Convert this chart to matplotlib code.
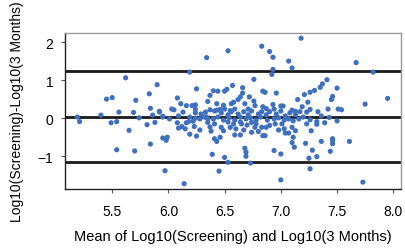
import numpy as np
import matplotlib.pyplot as plt

plt.rcParams['font.family'] = ['Liberation Sans', 'DejaVu Sans']

# mean of the two log10 values
mean_log = [
    5.19, 5.21, 5.40, 5.45, 5.50, 5.49, 5.54, 5.56, 5.54, 5.62,
    5.65, 5.69, 5.71, 5.70, 5.74, 5.81, 5.83, 5.84, 5.84, 5.86,
    5.90, 5.88, 5.92, 5.95, 5.95, 5.98, 5.99, 5.97, 6.03, 6.05,
    6.08, 6.08, 6.09, 6.11, 6.12, 6.13, 6.14, 6.15, 6.16, 6.16,
    6.18, 6.19, 6.19, 6.22, 6.23, 6.21, 6.24, 6.25, 6.25, 6.24,
    6.28, 6.32, 6.33, 6.34, 6.35, 6.37, 6.35, 6.38, 6.39, 6.40,
    6.41, 6.43, 6.43, 6.43, 6.45, 6.46, 6.47, 6.49, 6.50, 6.52,
    6.50, 6.53, 6.53, 6.44, 6.50, 6.55, 6.56, 6.57, 6.59, 6.62,
    6.64, 6.66, 6.66, 6.68, 6.71, 6.72, 6.76, 6.76, 6.77, 6.83,
    6.84, 6.68, 6.69, 6.69, 6.73, 6.49, 6.55, 6.59, 6.64, 6.74,
    6.80, 6.84, 6.58, 6.65, 6.70, 6.74, 6.78, 6.77, 6.83, 6.90,
    6.93, 7.07, 7.10, 6.93, 6.92, 7.18, 6.86, 6.96, 7.35, 7.30,
    7.26, 7.21, 7.15, 7.24, 6.84, 6.93, 6.94, 7.00, 7.02, 7.10,
    7.13, 7.26, 7.23, 7.00, 7.26, 6.94, 7.00, 7.25, 7.32, 7.28,
    7.12, 7.10, 7.22, 6.98, 7.03, 7.04, 7.07, 7.10, 7.13, 7.11,
    7.23, 7.27, 7.26, 7.32, 6.86, 6.87, 6.90, 6.95, 7.01, 7.67,
    7.82, 7.41, 7.37, 7.50, 7.46, 7.45, 7.95, 7.75, 7.42, 7.51,
    7.54, 7.43, 7.50, 7.32, 7.36, 7.46, 7.46, 7.46, 7.61, 7.44,
    7.73, 6.58, 6.46, 6.24,
    5.92, 5.95, 6.01, 6.19, 6.28, 6.35, 6.37, 6.41, 6.47, 6.53,
    6.56, 6.62, 6.67, 6.71, 6.74, 6.80, 6.83, 6.34, 6.40, 6.44,
    6.49, 6.54, 6.59, 6.64, 6.69, 6.73, 6.78, 6.82, 6.87, 6.90,
    6.96, 7.00, 7.04, 7.08, 7.13, 7.17, 7.20, 6.88, 6.94, 6.98,
    7.03, 7.07, 7.11, 7.16, 6.64, 6.53, 6.41, 6.37, 6.60, 6.67,
    6.29, 6.24, 6.09, 6.87, 7.19, 7.33, 7.36, 7.39,
]

# difference of the two log10 values
diff_log = [
    0.03, -0.09, 0.08, 0.50, 0.54, -0.12, -0.09, 0.16, -0.83, 1.06,
    -0.32, 0.15, 0.47, -0.86, 0.01, -0.17, 0.64, 0.26, -0.68, 0.08,
    0.88, -0.11, 0.18, 0.05, -0.52, -0.58, -0.50, -1.38, 0.24, 0.22,
    0.53, -0.12, -0.26, 0.38, -0.22, 0.16, -1.72, -0.28, -0.12, 0.33,
    -0.09, 1.21, -0.42, -0.08, -0.22, 0.33, 0.23, -0.47, 0.77, 0.00,
    -0.31, 0.03, 0.16, 1.59, 0.44, 0.60, -0.11, -0.34, -0.95, 0.72,
    -0.54, -0.61, 0.38, 0.21, -1.39, -0.50, -0.24, 0.34, 0.71, 0.76,
    -1.03, -1.16, 1.77, 0.71, 0.24, 0.20, 0.38, 0.86, 0.24, 0.49,
    0.56, 0.66, 0.80, 0.38, 0.24, 0.56, 0.45, 1.02, 0.33, 1.89,
    0.71, -0.79, -0.89, -1.00, -1.18, -0.33, -0.24, -0.44, -0.44, -0.37,
    -0.35, -0.46, -0.15, -0.15, -0.18, -0.11, -0.15, -0.24, -0.24, 1.75,
    1.60, 1.50, 1.32, 1.28, 1.15, 2.10, 0.68, 0.66, 0.81, 0.73,
    0.68, 0.62, 0.49, 0.42, 0.30, 0.36, 0.24, 0.32, 0.32, 0.21,
    0.18, 0.23, 0.16, -1.62, -1.33, -0.85, -0.94, -1.05, -1.01, -0.84,
    -0.76, -0.64, -0.66, -0.31, -0.28, -0.39, -0.39, -0.24, -0.33, -0.50,
    -0.15, -0.33, -0.04, -0.09, -0.46, -0.24, -0.19, -0.15, -0.15, 1.46,
    1.21, 1.01, 0.90, 0.79, 0.57, 0.49, 0.52, 0.37, 0.24, 0.24,
    0.22, 0.02, -0.07, -0.16, -0.61, -0.54, -0.59, -0.67, -0.61, -0.87,
    -1.68, 0.42, 0.23, 0.35,
    0.16, 0.03, -0.02, 0.03, -0.02, -0.02, 0.22, 0.19, 0.14, 0.09,
    0.17, 0.11, 0.17, 0.09, 0.19, 0.11, 0.17, 0.03, -0.02, 0.03,
    -0.05, 0.01, -0.05, 0.03, -0.02, 0.01, -0.05, 0.03, 0.09, 0.17,
    0.11, 0.19, 0.06, 0.14, 0.09, 0.17, 0.03, -0.05, -0.02, 0.01,
    -0.05, -0.02, -0.07, -0.02, -0.10, -0.10, -0.15, -0.23, -0.28, -0.31,
    0.11, 0.14, 0.06, 0.25, 0.30, 0.17, 0.06, -0.12,
]

mean_diff = 0.04
upper_loa = 1.23
lower_loa = -1.14

xticks = [5.5, 6.0, 6.5, 7.0, 7.5, 8.0]
yticks = [-1, 0, 1, 2]

fig = plt.figure(figsize=(4.06, 2.53), dpi=100)
ax = fig.add_axes([0.160, 0.249, 0.828, 0.617])

for yy in [upper_loa, mean_diff, lower_loa]:
    ax.axhline(yy, color='#1a1a1a', lw=2.0, zorder=2)

ax.scatter(mean_log, diff_log, s=14, color='#3f70bf', edgecolors='none', zorder=3)

ax.set_xlim(5.08, 8.07)
ax.set_ylim(-1.86, 2.24)
ax.set_xticks(xticks)
ax.set_xticklabels(['%.1f' % t for t in xticks])
ax.set_yticks(yticks)
ax.tick_params(axis='both', labelsize=10, length=3, width=0.8, color='#555555')
ax.tick_params(axis='x', pad=8)
ax.tick_params(axis='y', pad=5.5)

for s in ['top', 'right']:
    ax.spines[s].set_color('#999999')
    ax.spines[s].set_linewidth(1.0)
for s in ['left', 'bottom']:
    ax.spines[s].set_color('#222222')
    ax.spines[s].set_linewidth(1.0)

ax.set_xlabel('Mean of Log10(Screening) and Log10(3 Months)', fontsize=10.5, labelpad=8)
ax.set_ylabel('Log10(Screening)-Log10(3 Months)', fontsize=10, labelpad=10)

fig.savefig('out.png', dpi=100)
